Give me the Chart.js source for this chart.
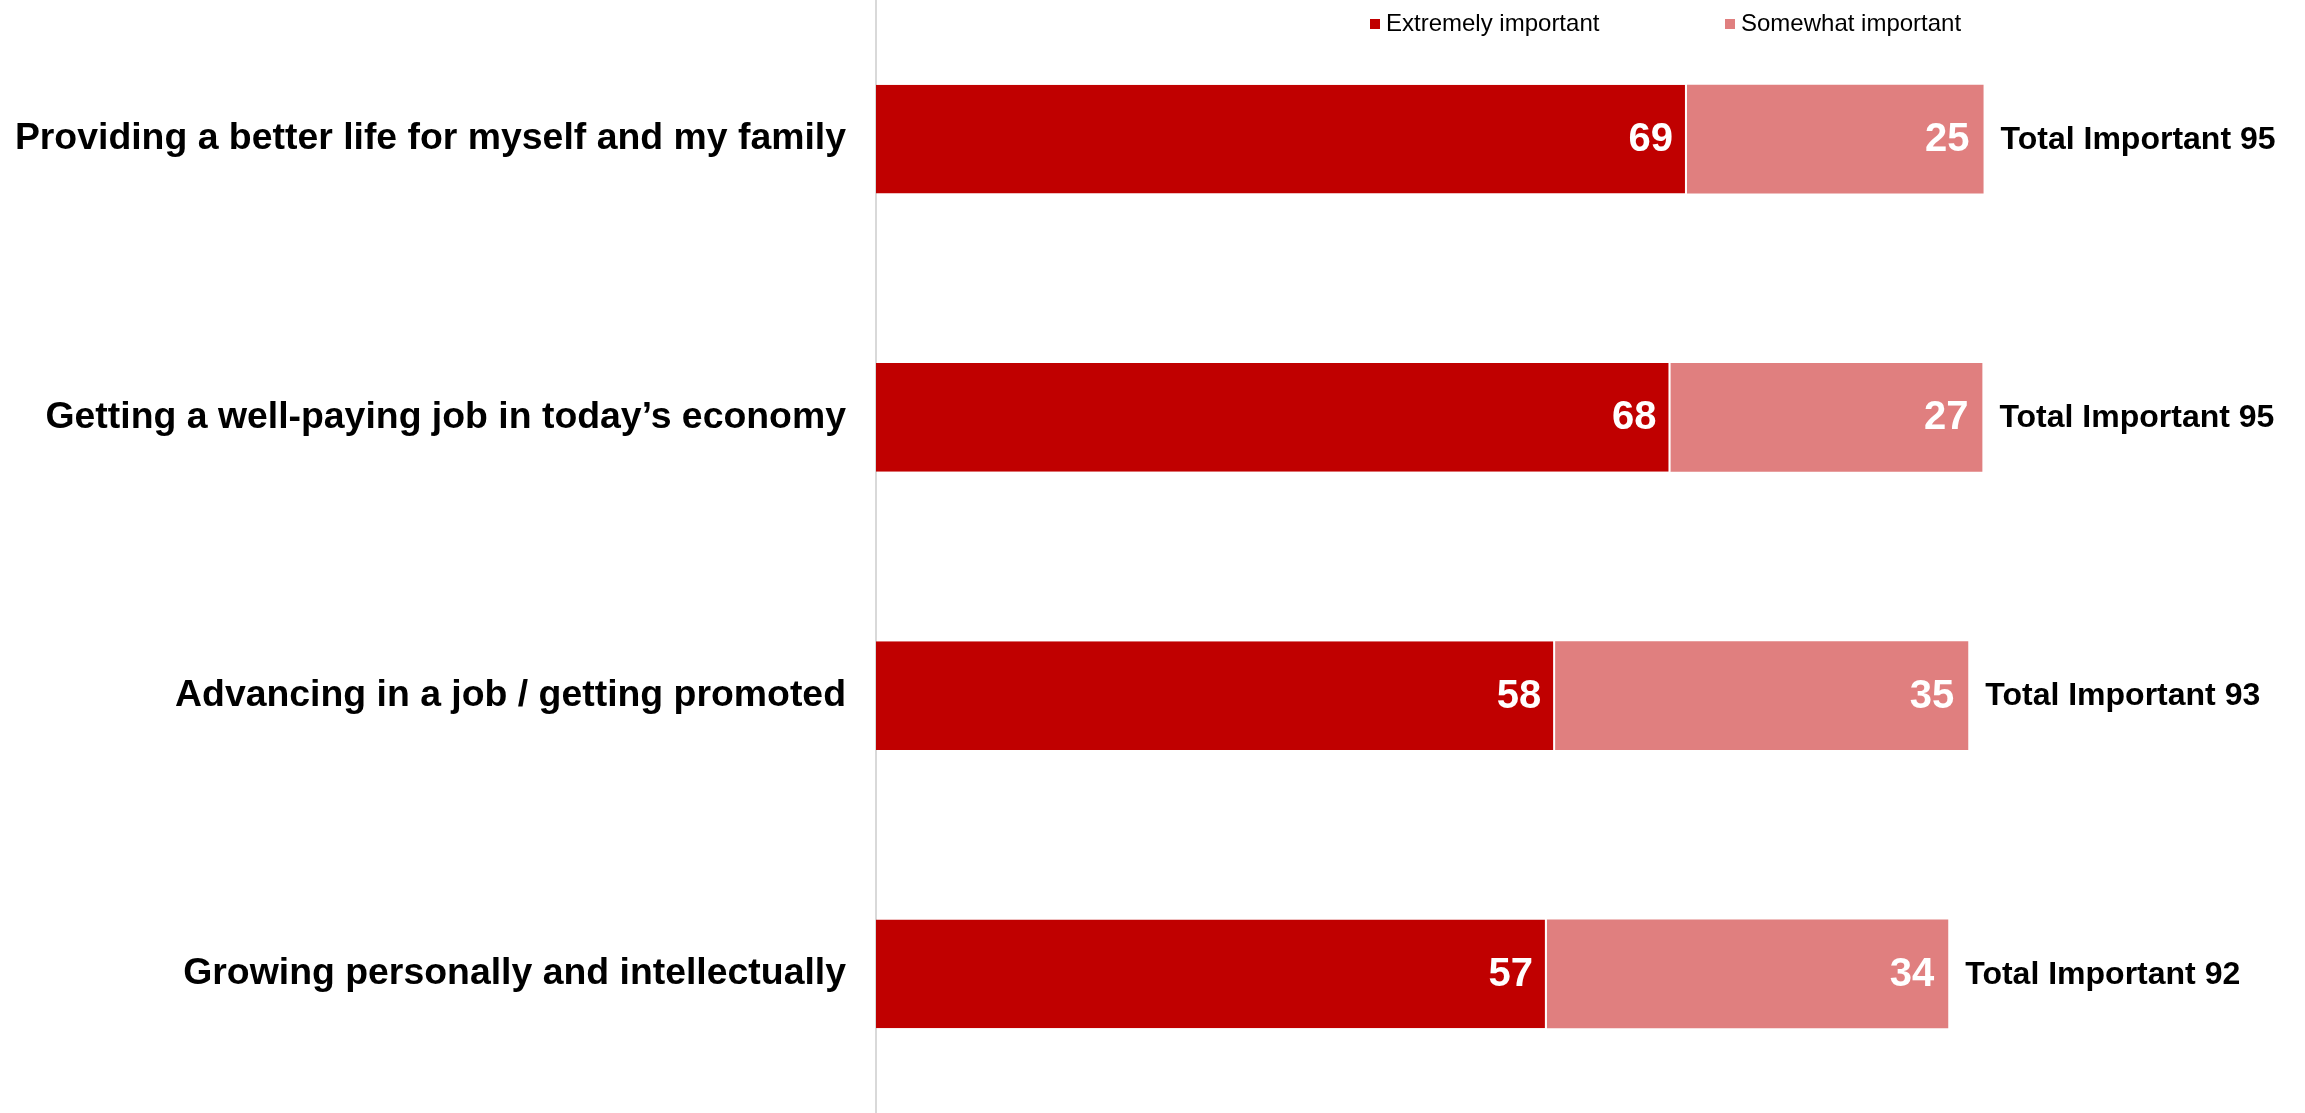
<!DOCTYPE html>
<html>
<head>
<meta charset="utf-8">
<script src="https://cdn.jsdelivr.net/npm/chart.js@4.4.1/dist/chart.umd.min.js"></script>
<style>
    html, body { margin: 0; padding: 0; background: #fff; }
    #wrap { width: 2305px; height: 1113px; position: relative; }
</style>
</head>
<body>
<div id="wrap"><canvas id="importanceChart"></canvas></div>
<script>
// Chart data (bar lengths; labels show rounded values)
const categories = [
    'Providing a better life for myself and my family',
    'Getting a well-paying job in today\u2019s economy',
    'Advancing in a job / getting promoted',
    'Growing personally and intellectually'
];
const extremelyImportant = [68.9, 67.5, 57.7, 57.0];
const somewhatImportant = [25.2, 26.5, 35.1, 34.1];
const totalImportant = [95, 95, 93, 92];
const seriesNames = ['Extremely important', 'Somewhat important'];

const RED = '#C00000';
const PINK = '#E07F7F';
const FONT = '"Liberation Sans", Arial, sans-serif';

// Value labels inside the bars + "Total Important" at the end of each row
const barLabels = {
    id: 'barLabels',
    afterDatasetsDraw(chart) {
        const ctx = chart.ctx;
        ctx.save();
        ctx.textBaseline = 'middle';
        chart.data.datasets.forEach((ds, i) => {
            const meta = chart.getDatasetMeta(i);
            meta.data.forEach((bar, j) => {
                ctx.font = 'bold 40px ' + FONT;
                ctx.fillStyle = '#fff';
                ctx.textAlign = 'right';
                ctx.fillText(Math.round(ds.data[j]), bar.x - 14, bar.y + 1);
            });
        });
        // totals after the last segment
        const last = chart.getDatasetMeta(chart.data.datasets.length - 1);
        last.data.forEach((bar, j) => {
            ctx.font = 'bold 32px ' + FONT;
            ctx.fillStyle = '#000';
            ctx.textAlign = 'left';
            ctx.fillText('Total Important ' + totalImportant[j], bar.x + 17, bar.y + 1);
        });
        ctx.restore();
    }
};

// Small legend at the top, drawn over the plot area
const topLegend = {
    id: 'topLegend',
    afterDraw(chart) {
        const ctx = chart.ctx;
        const starts = [1370, 1725];
        ctx.save();
        ctx.font = '24px ' + FONT;
        ctx.textBaseline = 'middle';
        ctx.textAlign = 'left';
        chart.data.datasets.forEach((ds, i) => {
            ctx.fillStyle = ds.backgroundColor;
            ctx.fillRect(starts[i], 19, 10, 10);
            ctx.fillStyle = '#000';
            ctx.fillText(ds.label, starts[i] + 16, 24);
        });
        ctx.restore();
    }
};

new Chart(document.getElementById('importanceChart'), {
    type: 'bar',
    data: {
        labels: categories,
        datasets: [{
            label: seriesNames[0],
            data: extremelyImportant,
            backgroundColor: RED,
            borderColor: '#fff',
            borderWidth: { right: 2, top: 0, bottom: 0, left: 0 },
            borderSkipped: false
        }, {
            label: seriesNames[1],
            data: somewhatImportant,
            backgroundColor: PINK,
            borderWidth: 0
        }]
    },
    options: {
        indexAxis: 'y',
        responsive: true,
        maintainAspectRatio: false,
        animation: false,
        datasets: {
            bar: { categoryPercentage: 1, barPercentage: 0.39 }
        },
        layout: { padding: { left: 0, right: 252, top: 0, bottom: 0 } },
        plugins: {
            legend: { display: false },
            tooltip: { enabled: false }
        },
        scales: {
            x: {
                stacked: true,
                min: 0,
                max: 100,
                display: false
            },
            y: {
                stacked: true,
                grid: { display: false },
                border: { display: true, color: '#D9D9D9', width: 2 },
                ticks: {
                    color: '#000',
                    padding: 22,
                    font: { family: FONT, size: 37.4, weight: 'bold' }
                },
                afterFit(scale) {
                    scale.width = 876;
                    scale.paddingTop = 0;
                    scale.paddingBottom = 0;
                }
            }
        }
    },
    plugins: [barLabels, topLegend]
});
</script>
</body>
</html>
